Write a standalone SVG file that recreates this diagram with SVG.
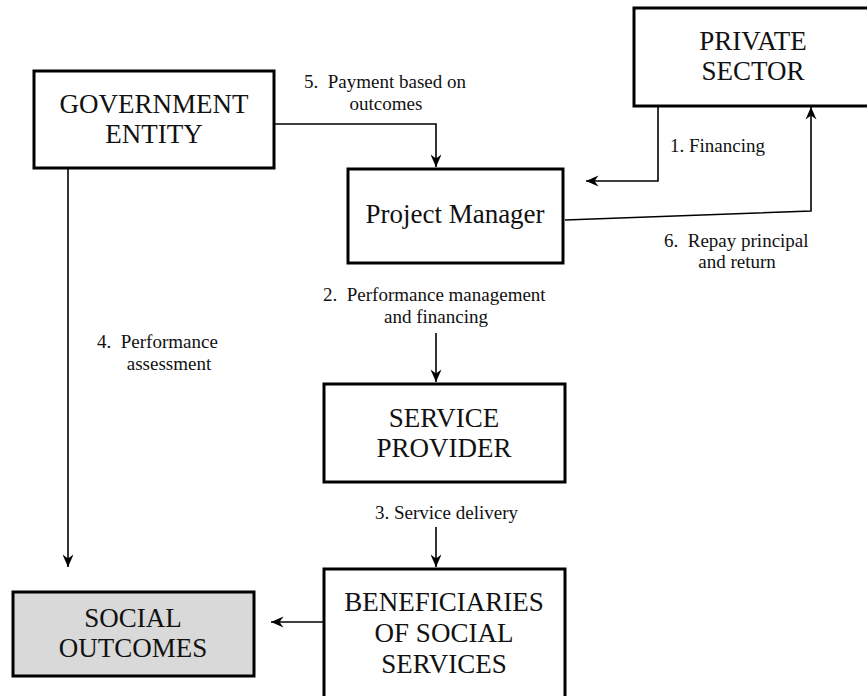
<svg xmlns="http://www.w3.org/2000/svg" width="867" height="696" viewBox="0 0 867 696">
  <defs>
    <marker id="arr" viewBox="-13 -7 14 14" refX="0" refY="0" markerWidth="14" markerHeight="14" markerUnits="userSpaceOnUse" orient="auto">
      <path d="M0,0 L-12.5,-5.5 L-8.5,0 L-12.5,5.5 Z" fill="#000"/>
    </marker>
    <style>
      text { white-space: pre; }
      .box { fill: #fff; stroke: #000; stroke-width: 3; }
      .box.shaded { fill: #d9d9d9; }
      .node-text { font-size: 27px; fill: #111; text-anchor: middle; }
      .label { font-size: 19px; fill: #111; }
      .mid { text-anchor: middle; }
      .conn { fill: none; stroke: #000; stroke-width: 1.6; }
      .conn.arrow { marker-end: url(#arr); }
    </style>
  </defs>

  <rect width="867" height="696" fill="#fff"/>

  <g font-family="Liberation Serif, Times New Roman, serif">
    <!-- connectors -->
    <g id="connectors">
      <path class="conn arrow" d="M658 106 V181 H586"/>
      <path class="conn arrow" d="M565 220 L811 211 V107"/>
      <path class="conn arrow" d="M274 124 H436 V167"/>
      <path class="conn arrow" d="M436 333 V382"/>
      <path class="conn arrow" d="M436 527 V567"/>
      <path class="conn arrow" d="M68 168 V567"/>
      <path class="conn arrow" d="M324 622 H271"/>
    </g>

    <!-- connector labels -->
    <g id="labels">
      <text class="label" x="304" y="88" xml:space="preserve">5.  Payment based on</text>
      <text class="label mid" x="386" y="110">outcomes</text>
      <text class="label" x="670" y="152">1. Financing</text>
      <text class="label" x="664" y="247" xml:space="preserve">6.  Repay principal</text>
      <text class="label mid" x="737" y="268">and return</text>
      <text class="label" x="323" y="301" xml:space="preserve">2.  Performance management</text>
      <text class="label mid" x="436" y="323">and financing</text>
      <text class="label" x="97" y="348" xml:space="preserve">4.  Performance</text>
      <text class="label mid" x="169" y="370">assessment</text>
      <text class="label" x="375" y="519">3. Service delivery</text>
    </g>

    <g id="government-entity">
      <rect class="box" x="34" y="71" width="240" height="97"/>
      <text class="node-text" x="154" y="113">GOVERNMENT</text>
      <text class="node-text" x="154" y="143">ENTITY</text>
    </g>

    <g id="private-sector">
      <rect class="box" x="634" y="8" width="238" height="98"/>
      <text class="node-text" x="753" y="50">PRIVATE</text>
      <text class="node-text" x="753" y="80">SECTOR</text>
    </g>

    <g id="project-manager">
      <rect class="box" x="348" y="169" width="215" height="94"/>
      <text class="node-text" x="455" y="223">Project Manager</text>
    </g>

    <g id="service-provider">
      <rect class="box" x="324" y="384" width="241" height="98"/>
      <text class="node-text" x="444" y="427">SERVICE</text>
      <text class="node-text" x="444" y="457">PROVIDER</text>
    </g>

    <g id="beneficiaries">
      <rect class="box" x="324" y="569" width="241" height="140"/>
      <text class="node-text" x="444" y="611">BENEFICIARIES</text>
      <text class="node-text" x="444" y="642">OF SOCIAL</text>
      <text class="node-text" x="444" y="673">SERVICES</text>
    </g>

    <g id="social-outcomes">
      <rect class="box shaded" x="13" y="592" width="241" height="84"/>
      <text class="node-text" x="133" y="627">SOCIAL</text>
      <text class="node-text" x="133" y="657">OUTCOMES</text>
    </g>
  </g>
</svg>
